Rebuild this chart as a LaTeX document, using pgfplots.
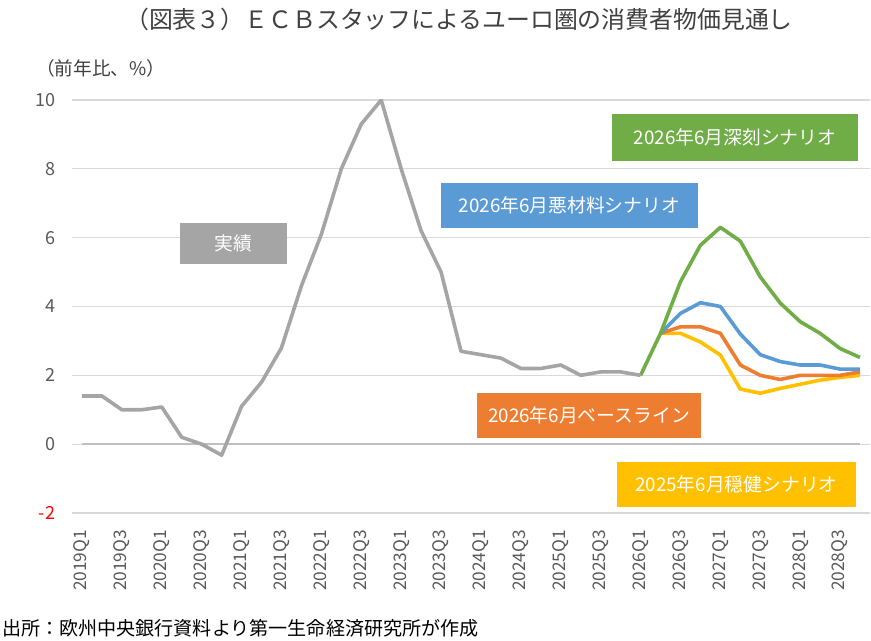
\documentclass[border=0pt]{standalone}
\usepackage{pgfplots}
\pgfplotsset{compat=1.18}
\usepackage{fontspec}
\setmainfont{Noto Sans CJK JP}
\definecolor{cGray}{HTML}{A5A5A5}
\definecolor{cOrange}{HTML}{ED7D31}
\definecolor{cBlue}{HTML}{5B9BD5}
\definecolor{cYellow}{HTML}{FFC000}
\definecolor{cGreen}{HTML}{70AD47}
\definecolor{cGrid}{HTML}{D9D9D9}
\definecolor{cZero}{HTML}{BFBFBF}
\definecolor{cTick}{HTML}{595959}
\definecolor{cText}{HTML}{404040}

\begin{document}
\begin{tikzpicture}
\path[use as bounding box] (0,0) rectangle (653.25pt,480pt);

\begin{axis}[
  at={(54pt,95.25pt)}, anchor=south west,
  scale only axis, width=598.5pt, height=309.75pt,
  xmin=-0.5, xmax=39.5, ymin=-2, ymax=10,
  axis line style={draw=none},
  tick style={draw=none},
  ytick={-2,0,2,4,6,8,10},
  yticklabels={\textcolor{red}{-2},0,2,4,6,8,10},
  ymajorgrids, grid style={cGrid, line width=0.9pt},
  xtick={0,2,...,38},
  xticklabels={2019Q1,2019Q3,2020Q1,2020Q3,2021Q1,2021Q3,2022Q1,2022Q3,2023Q1,2023Q3,
               2024Q1,2024Q3,2025Q1,2025Q3,2026Q1,2026Q3,2027Q1,2027Q3,2028Q1,2028Q3},
  /pgf/number format/assume math mode=true,
  yticklabel style={font=\fontsize{13.5pt}{15pt}\selectfont, text=cTick, inner sep=0pt},
  yticklabel shift=12.5pt,
  xticklabel style={font=\fontsize{13pt}{15pt}\selectfont, text=cTick, rotate=90, anchor=east, inner sep=0pt},
  xticklabel shift=12.5pt,
  line join=round,
]
\draw[cZero, line width=1.6pt] (axis cs:0,0) -- (axis cs:39,0);

% 2025年6月穏健シナリオ
\addplot[cYellow, line width=2.7pt] coordinates {
 (29,3.22) (30,3.22) (31,2.97) (32,2.59) (33,1.60) (34,1.48)
 (35,1.62) (36,1.74) (37,1.86) (38,1.94) (39,2.00)};
% 2026年6月ベースライン
\addplot[cOrange, line width=2.7pt] coordinates {
 (29,3.22) (30,3.41) (31,3.41) (32,3.22) (33,2.30) (34,2.00)
 (35,1.88) (36,2.00) (37,2.00) (38,2.00) (39,2.10)};
% 2026年6月悪材料シナリオ
\addplot[cBlue, line width=2.7pt] coordinates {
 (29,3.22) (30,3.80) (31,4.11) (32,4.00) (33,3.20) (34,2.60)
 (35,2.40) (36,2.30) (37,2.30) (38,2.18) (39,2.18)};
% 2026年6月深刻シナリオ
\addplot[cGreen, line width=2.7pt] coordinates {
 (28,2.00) (29,3.22) (30,4.72) (31,5.78) (32,6.30) (33,5.90)
 (34,4.86) (35,4.10) (36,3.56) (37,3.22) (38,2.78) (39,2.52)};
% 実績
\addplot[cGray, line width=2.7pt] coordinates {
 (0,1.4) (1,1.4) (2,1.0) (3,1.0) (4,1.08) (5,0.2) (6,0.0) (7,-0.32)
 (8,1.1) (9,1.8) (10,2.8) (11,4.6) (12,6.1) (13,8.0) (14,9.3) (15,10.0)
 (16,8.0) (17,6.2) (18,5.0) (19,2.7) (20,2.6) (21,2.5) (22,2.2) (23,2.2)
 (24,2.3) (25,2.0) (26,2.1) (27,2.1) (28,2.0)};
\end{axis}

% annotations, positioned in pixel units from the top-left corner
\begin{scope}[x=0.75pt, y=-0.75pt, shift={(0pt,480pt)}]
\node[text=cText, font=\fontsize{17.9pt}{20pt}\selectfont] at (459,19) {（図表３）ＥＣＢスタッフによるユーロ圏の消費者物価見通し};
\node[text=cText, font=\fontsize{14pt}{16pt}\selectfont, anchor=west, inner sep=0pt] at (36,68) {（前年比、\%）};
\node[text=black, font=\fontsize{14.3pt}{16pt}\selectfont, anchor=west, inner sep=0pt] at (2,628) {出所：欧州中央銀行資料より第一生命経済研究所が作成};

\fill[cGray] (180,223) rectangle (287,264);
\node[white, font=\fontsize{14.1pt}{16pt}\selectfont] at (233.5,243.5) {実績};
\fill[cGreen] (612,114) rectangle (858,161);
\node[white, font=\fontsize{14.1pt}{16pt}\selectfont] at (735,137.5) {2026年6月深刻シナリオ};
\fill[cBlue] (441,183) rectangle (698,228);
\node[white, font=\fontsize{14.1pt}{16pt}\selectfont] at (569.5,205.5) {2026年6月悪材料シナリオ};
\fill[cOrange] (477,393) rectangle (701,438);
\node[white, font=\fontsize{14.1pt}{16pt}\selectfont] at (589,415.5) {2026年6月ベースライン};
\fill[cYellow] (617,462) rectangle (856,507);
\node[white, font=\fontsize{14.1pt}{16pt}\selectfont] at (736.5,484.5) {2025年6月穏健シナリオ};
\end{scope}
\end{tikzpicture}
\end{document}
